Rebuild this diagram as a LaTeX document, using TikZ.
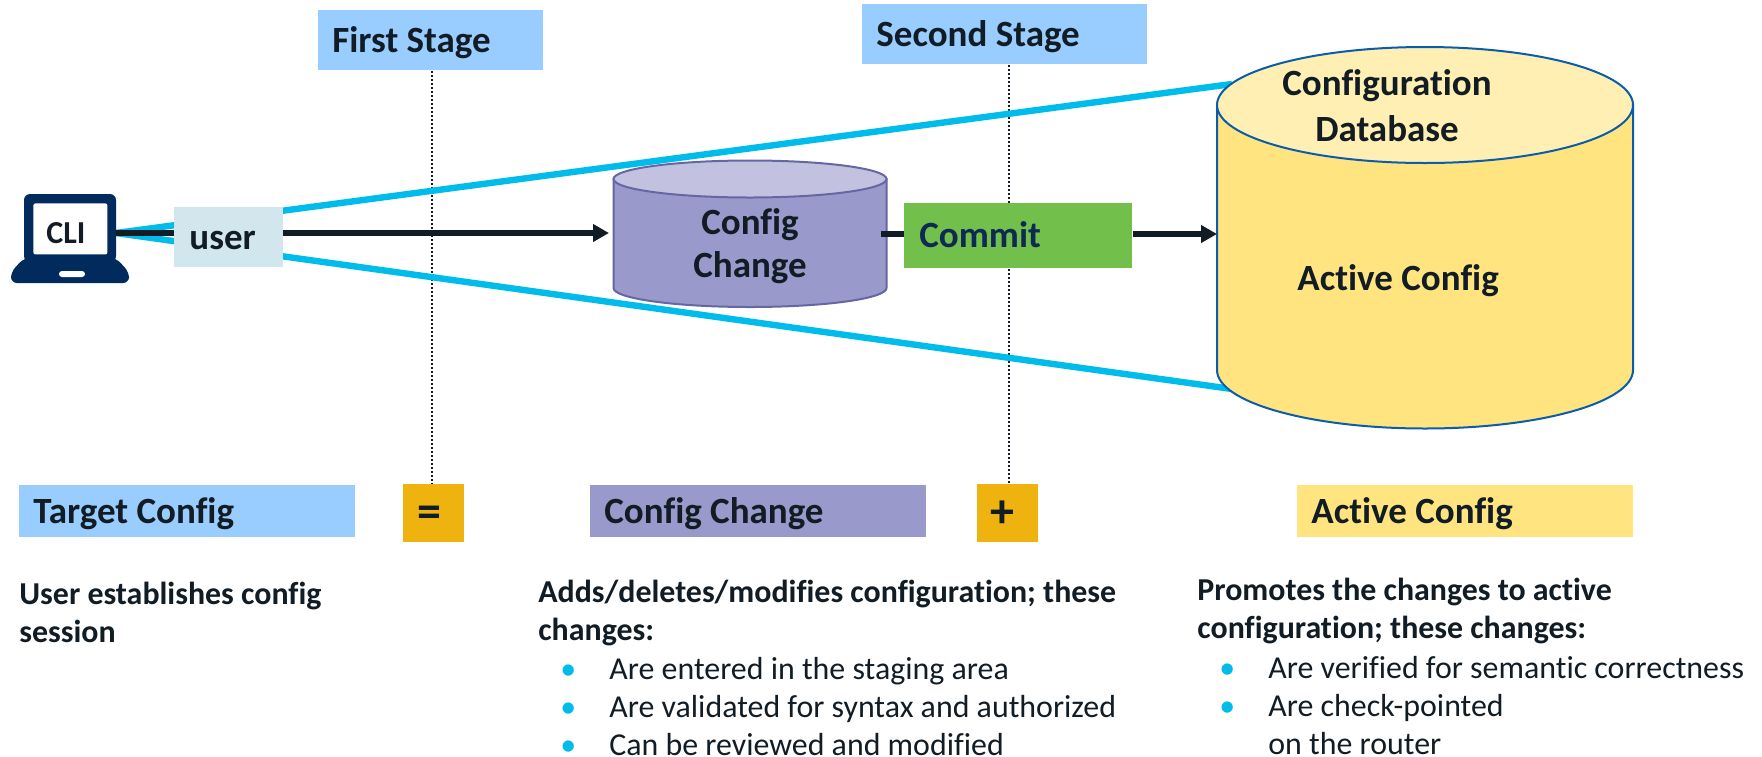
\documentclass[tikz,border=0pt]{standalone}
\usepackage{fontspec}
\setmainfont[Ligatures=NoCommon]{Carlito}
\definecolor{ink}{HTML}{111C24}
\definecolor{navy}{HTML}{0F2A52}
\definecolor{lapc}{HTML}{002B5C}
\definecolor{cyanl}{HTML}{00BCEB}
\definecolor{bluebox}{HTML}{99CCFF}
\definecolor{purp}{HTML}{9999CC}
\definecolor{purpl}{HTML}{C2C2E0}
\definecolor{purpd}{HTML}{6666A3}
\definecolor{yel}{HTML}{FFE480}
\definecolor{yell}{HTML}{FFEFB3}
\definecolor{dbline}{HTML}{0A5CAD}
\definecolor{oran}{HTML}{EFB30F}
\definecolor{grn}{HTML}{72BF4B}
\definecolor{usr}{HTML}{D2E7ED}
\usetikzlibrary{arrows.meta}
\tikzset{
  tbox/.style={anchor=north west,inner ysep=0pt,inner xsep=7.5pt,align=flush left,text=ink,
    font=\fontsize{18.5}{22}\selectfont\bfseries},
  thead/.style={tbox,inner xsep=7pt,text width=154pt,text height=19pt,text depth=7pt},
  tsign/.style={tbox,inner xsep=0pt,align=flush center,text width=30.5pt,text height=21.5pt,text depth=7.5pt,fill=oran,
    font=\fontsize{24}{26}\selectfont\bfseries},
  tstage/.style={tbox,inner xsep=7pt,text height=21pt,text depth=9pt,fill=bluebox},
  free/.style={anchor=base,inner sep=0pt,text=ink,font=\fontsize{18.5}{22}\selectfont\bfseries},
  para/.style={anchor=base west,inner sep=0pt,text=ink,font=\fontsize{15.95}{19}\selectfont},
  blackline/.style={draw=ink,line width=3pt},
  blackarrow/.style={blackline,-{Triangle[length=8pt,width=8.5pt]}},
  cyanline/.style={draw=cyanl,line width=3.2pt},
  dotline/.style={draw=ink,line width=1pt,dash pattern=on 1pt off 1pt},
}
\newcommand{\blt}{\makebox[24.5pt][l]{\textcolor{cyanl}{\textbullet}}}
\begin{document}
\begin{tikzpicture}[x=0.5pt,y=-0.5pt]
\useasboundingbox (0,0) rectangle (1762,756);
% anchors
\coordinate (lapE) at (116,233);
\coordinate (dbT) at (1232,84);
\coordinate (dbB) at (1232,389);
\coordinate (ccW) at (609,233);
\coordinate (ccE) at (881,234);
\coordinate (dbW) at (1217,234);
% boxes that connectors run behind are placed after the connectors
\node[tstage,text width=98.5pt] (stageA) at (318,10) {First Stage};
\node[tstage,text width=128.5pt] (stageB) at (862,4) {Second Stage};
\node[tsign] (eq) at (403,484) {=\hspace*{4pt}};
\node[tsign] (plus) at (977,484) {+\hspace*{5pt}};
\coordinate (eqT) at ([xshift=-0.75pt]eq.north);
\coordinate (plusT) at ([xshift=0.75pt]plus.north);
\draw[dotline] (eqT |- stageA.south) -- (eqT);
\draw[dotline] (plusT |- stageB.south) -- (plusT);
\draw[cyanline] (lapE) -- (dbT);
\draw[cyanline] (lapE) -- (dbB);
% Config Change cylinder
\draw[draw=purpd,line width=1pt,fill=purp] (613.5,179) -- (613.5,288) arc[start angle=180,end angle=0,x radius=136.5,y radius=19] -- (886.5,179) -- cycle;
\draw[draw=purpd,line width=1pt,fill=purpl] (750,179) ellipse[x radius=136.5,y radius=18.5];
\node[free,align=center] (ccA) at (750,234) {Config};
\node[free,align=center] (ccB) at (750,277) {Change};
% Database cylinder
\draw[draw=dbline,line width=1pt,fill=yel] (1217,105) -- (1217,370) arc[start angle=180,end angle=0,x radius=208,y radius=58.5] -- (1633,105) -- cycle;
\draw[draw=dbline,line width=1pt,fill=yell] (1425,105) ellipse[x radius=208,y radius=58];
\node[free] (dbA) at (1387,95) {Configuration};
\node[free] (dbB2) at (1387,141) {Database};
\node[free,anchor=base west] (dbC) at (1297,290) {Active Config};
% connectors
\draw[blackarrow] (lapE) -- (ccW);
\node[tbox,fill=usr,text width=39.5pt,text height=21pt,text depth=9pt] (user) at (174,207) {user};
\node[tbox,fill=grn,text=navy,text width=99pt,text height=22pt,text depth=10.5pt] (commit) at (904,203) {Commit};
\draw[blackline] (ccE) -- (commit.west |- ccE);
\draw[blackarrow] (commit.east |- dbW) -- (dbW);
% laptop
\fill[lapc,rounded corners=3pt] (24,262) -- (24,194) -- (116,194) -- (116,262) -- cycle;
\fill[lapc,rounded corners=3pt] (24,258) -- (11,272) -- (11,283) -- (129,283) -- (129,272) -- (116,258) -- cycle;
\node[anchor=north west,fill=white,rounded corners=1pt,inner ysep=0pt,inner xsep=6.5pt,align=flush left,text width=24pt,text height=20pt,text depth=5.5pt,text=ink,font=\fontsize{16}{18}\selectfont\bfseries] (cli) at (33,203) {CLI};
\fill[white,rounded corners=1.5pt] (59,271) rectangle (85,277);
% legend
\node[thead,fill=bluebox] (lA) at (19,485) {Target Config};
\node[thead,fill=purp] (lB) at (590,485) {Config Change};
\node[thead,fill=yel] (lC) at (1297,485) {Active Config};
% text
\node[para] (tA) at (19,604) {\parbox[t]{200pt}{\raggedright\bfseries User establishes config\\session}};
\node[para] (tB) at (538,602) {\parbox[t]{300pt}{\raggedright\bfseries Adds/deletes/modifies configuration; these\\changes:\\[0.5pt]
  \mdseries\hspace*{11pt}\blt Are entered in the staging area\\
  \hspace*{11pt}\blt Are validated for syntax and authorized\\
  \hspace*{11pt}\blt Can be reviewed and modified}};
\node[para] (tC) at (1197,600) {\parbox[t]{300pt}{\raggedright\bfseries Promotes the changes to active\\configuration; these changes:\\[1pt]
  \mdseries\hspace*{11pt}\blt Are verified for semantic correctness\\
  \hspace*{11pt}\blt Are check-pointed\\
  \hspace*{11pt}\makebox[24.5pt]{}on the router}};
\end{tikzpicture}
\end{document}
